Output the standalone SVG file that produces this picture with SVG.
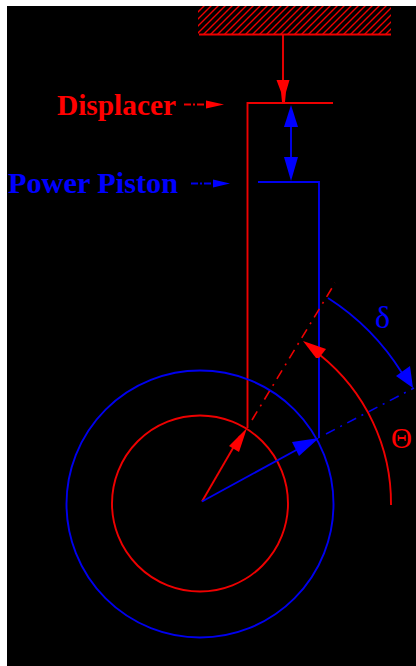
<svg xmlns="http://www.w3.org/2000/svg" width="416" height="666" viewBox="0 0 416 666">
<style>
.r{stroke:#e00;fill:none;stroke-width:1.9}
.b{stroke:#00e;fill:none;stroke-width:1.9}
.rf{fill:#f00;stroke:none}
.bf{fill:#00f;stroke:none}
.d{stroke-width:1.6;stroke-dasharray:10 6 2 6}
text{font-family:"Liberation Serif","Times New Roman",serif;font-weight:bold}
text.g{font-weight:normal}
</style>
<defs>
<pattern id="hatch" width="7" height="7" patternUnits="userSpaceOnUse" patternTransform="translate(197 6)">
<path d="M-1 8L8 -1M-1 1L1 -1M6 8L8 6" stroke="#e00" stroke-width="1.4"/>
</pattern>
</defs>
<rect width="416" height="666" fill="#fff"/>
<rect x="7" y="6" width="409" height="660" fill="#000"/>
<g id="wall">
<rect x="198" y="6" width="193" height="28" fill="url(#hatch)"/>
<path class="r" d="M199 34.500H391"/>
</g>
<g id="displacer">
<path class="r" d="M247.500 428V103H333"/>
<text x="57" y="115" font-size="30" fill="#f00" textLength="119" lengthAdjust="spacingAndGlyphs">Displacer</text>
</g>
<g id="power-piston">
<path class="b" d="M258 182H319V438"/>
<text x="8" y="192.500" font-size="30" fill="#00f" textLength="170" lengthAdjust="spacingAndGlyphs">Power Piston</text>
</g>
<g id="crank-circles">
<circle class="b" cx="200" cy="504" r="133.500"/>
<circle class="r" cx="200" cy="503.500" r="88"/>
</g>
<g id="connectors">
<path class="r" d="M283 34V82"/>
<path class="rf" d="M276.500 80H289.500L286 92L285 102H282L281 92Z"/>
<path class="r" d="M184 104.500H207" stroke-dasharray="7 2 2 2"/>
<path class="rf" d="M206 100.500L224 104.500L206 108.500Z"/>
<path class="b" d="M191 183.500H213" stroke-dasharray="7 2 2 2"/>
<path class="bf" d="M213 179.500L230 183.500L213 187.500Z"/>
<path class="b" d="M291 120V165"/>
<path class="bf" d="M291 105L298 127H284Z"/>
<path class="bf" d="M291 181L284 157H298Z"/>
<path class="r" d="M202 501.500L240 436"/>
<path class="rf" d="M247 428L239 452L229 446Z"/>
<path class="r d" d="M252 420L335 283"/>
<path class="b" d="M202 501.500L300 448"/>
<path class="bf" d="M319 438L299 456L292 442Z"/>
<path class="b d" d="M326 434L414 388"/>
<path class="r" d="M391 505A190 190 0 0 0 320 355"/>
<path class="rf" d="M303 341L326 349L319 358L316 358Z"/>
<path class="b" d="M328 298A239 239 0 0 1 402 373"/>
<path class="bf" d="M413 388L396 376L410 366Z"/>
</g>
<g id="angle-labels">
<text class="g" x="375" y="328" font-size="32" fill="#00f">δ</text>
<text class="g" x="391" y="448" font-size="29" fill="#f00">Θ</text>
</g>
</svg>
